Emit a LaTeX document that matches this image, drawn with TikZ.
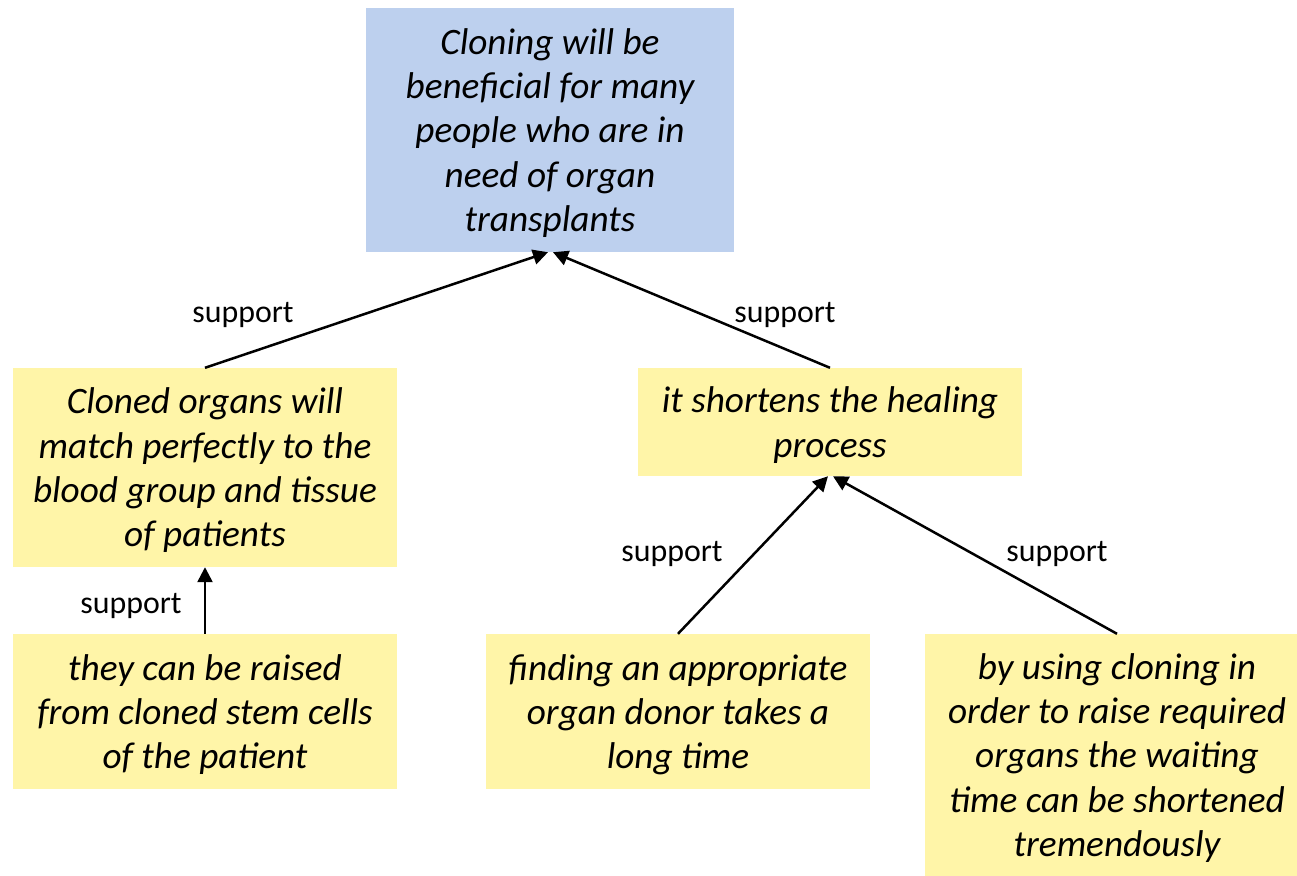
\documentclass[tikz,border=0pt]{standalone}
\usepackage{fontspec}
\setmainfont{Carlito}
\usetikzlibrary{arrows.meta}
\definecolor{claimblue}{RGB}{189,208,238}
\definecolor{noteyellow}{RGB}{255,245,168}

\begin{document}
\begin{tikzpicture}[x=1bp,y=-1bp,
  box/.style={fill=noteyellow, minimum width=384bp, align=center, inner sep=0pt,
    font=\fontsize{37.4}{44.5}\selectfont\itshape, text depth=0pt},
  sup/.style={font=\fontsize{32}{38}\selectfont},
  arr/.style={line width=2.5bp, -{Triangle[length=15bp,width=15bp]}}]
  \clip (0,0) rectangle (1297,876);

  \node [box, fill=claimblue, minimum width=368bp, minimum height=244bp] (claim) at (550,130)
    {Cloning will be\\beneficial for many\\people who are in\\need of organ\\transplants};
  \node [box, minimum height=199bp] (match) at (205,467.5)
    {Cloned organs will\\match perfectly to the\\blood group and tissue\\of patients};
  \node [box, minimum height=108bp] (heal) at (830,422)
    {it shortens the healing\\process};
  \node [box, minimum height=155bp] (raise) at (205,711.5)
    {they can be raised\\from cloned stem cells\\of the patient};
  \node [box, minimum height=155bp] (donor) at (678,711.5)
    {finding an appropriate\\organ donor takes a\\long time};
  \node [box, minimum height=242bp] (wait) at (1117,755)
    {by using cloning in\\order to raise required\\organs the waiting\\time can be shortened\\tremendously};

  \draw [arr] (match.north) -- ([xshift=-2bp]claim.south);
  \draw [arr] (heal.north) -- ([xshift=3bp]claim.south);
  \draw [arr] (raise.north) -- (match.south);
  \draw [arr] (donor.north) -- ([xshift=-2bp]heal.south);
  \draw [arr] (wait.north) -- ([xshift=3bp]heal.south);

  \node [sup] (s1) at (243,315) {support};
  \node [sup] (s2) at (785,315) {support};
  \node [sup] (s3) at (131,606) {support};
  \node [sup] (s4) at (672,554) {support};
  \node [sup] (s5) at (1057,554) {support};
\end{tikzpicture}
\end{document}
